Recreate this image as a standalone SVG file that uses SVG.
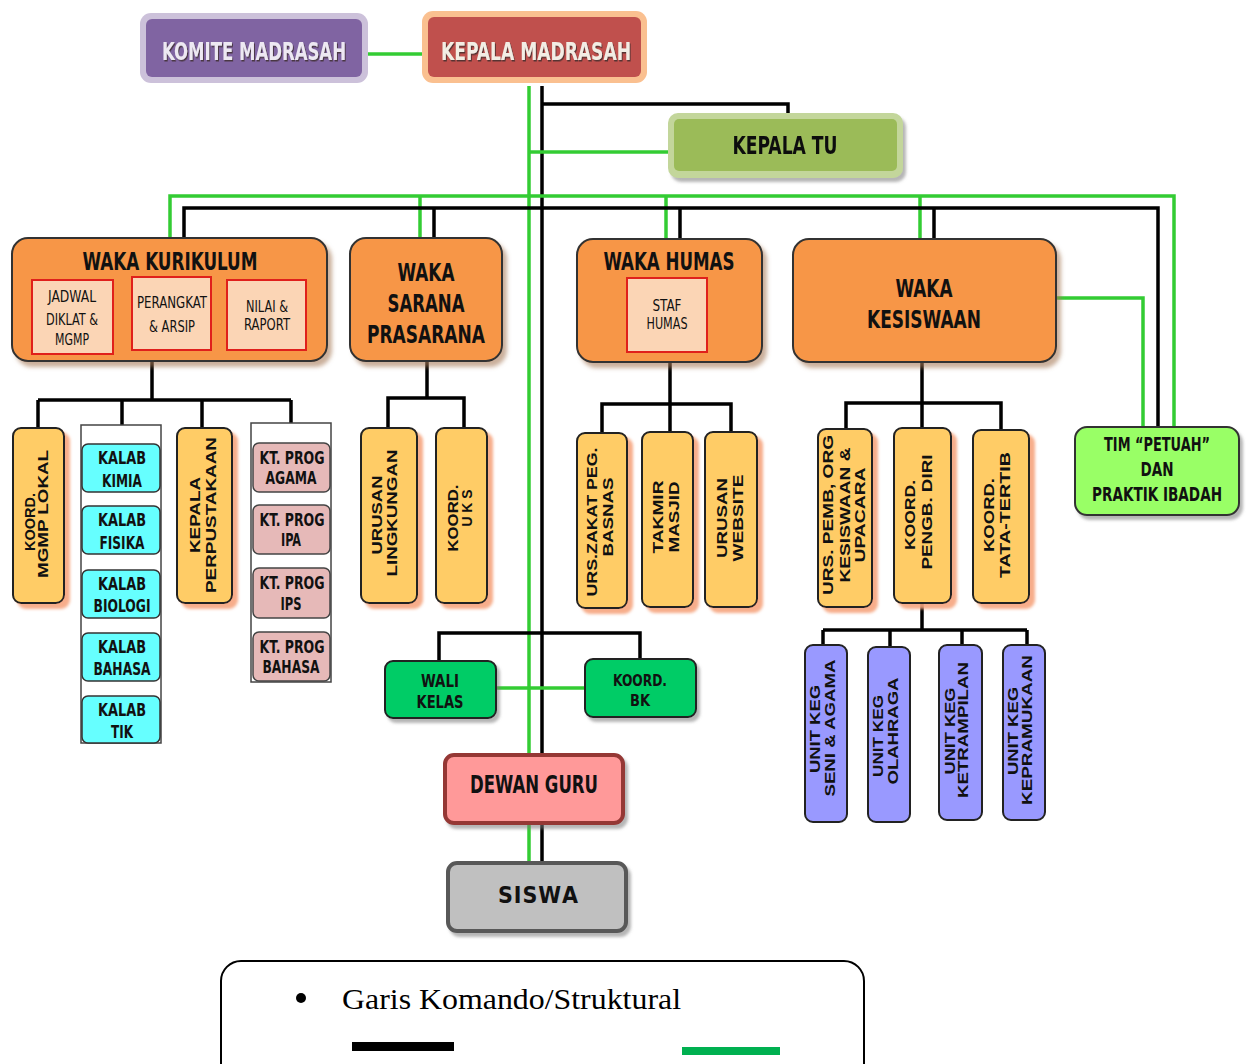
<svg xmlns="http://www.w3.org/2000/svg" width="1248" height="1064" viewBox="0 0 1248 1064">
<defs>
<filter id="sy" x="-20%" y="-20%" width="150%" height="150%"><feDropShadow dx="5" dy="5" stdDeviation="1.5" flood-color="#F6A47E" flood-opacity="0.9"/></filter>
<filter id="so" x="-20%" y="-20%" width="150%" height="150%"><feDropShadow dx="4" dy="5" stdDeviation="2" flood-color="#A77A58" flood-opacity="0.6"/></filter>
<filter id="sg" x="-20%" y="-20%" width="150%" height="150%"><feDropShadow dx="3" dy="4" stdDeviation="1.5" flood-color="#7a7a7a" flood-opacity="0.55"/></filter>
<filter id="st" x="-10%" y="-20%" width="130%" height="160%"><feDropShadow dx="1" dy="1.5" stdDeviation="0.6" flood-color="#3a2a2a" flood-opacity="0.8"/></filter>
</defs>
<style>
.nb{font-family:"Liberation Sans Narrow","Arial Narrow","DejaVu Sans Condensed","Liberation Sans",sans-serif;font-weight:bold;text-anchor:middle;fill:#111}
.nr{font-family:"Liberation Sans Narrow","Arial Narrow","DejaVu Sans Condensed","Liberation Sans",sans-serif;font-weight:normal;text-anchor:middle;fill:#111;font-size:16px}
.v{font-family:"Liberation Sans",Arial,sans-serif;font-weight:bold;font-size:14px;text-anchor:middle;fill:#111}
.waka{fill:#F79646;stroke:#333;stroke-width:2}
.sub{fill:#FBD5B5;stroke:#E0201B;stroke-width:2}
.yel{fill:#FFCC66;stroke:#222;stroke-width:2}
.cy{fill:#66FFFF;stroke:#333;stroke-width:1.5}
.pk{fill:#E6B9B8;stroke:#444;stroke-width:1.5}
.pu{fill:#9999FF;stroke:#222;stroke-width:2}
.gr{fill:#00CC66;stroke:#222;stroke-width:2}
.cont{fill:#fff;stroke:#444;stroke-width:1.5}
.k{stroke:#000;stroke-width:3.5;fill:none}
.g{stroke:#33CC33;stroke-width:3.5;fill:none}
</style>
<rect width="1248" height="1064" fill="#fff"/>

<g id="connectors">
<line class="g" x1="529" y1="86" x2="529" y2="861"/>
<line class="k" x1="542" y1="86" x2="542" y2="861"/>
<line class="g" x1="368" y1="54" x2="422" y2="54"/>
<polyline class="k" points="542,104 788,104 788,114"/>
<line class="g" x1="529" y1="152" x2="668" y2="152"/>
<polyline class="g" points="170,238 170,196 1174,196 1174,427"/>
<line class="g" x1="420" y1="196" x2="420" y2="238"/>
<line class="g" x1="666" y1="196" x2="666" y2="238"/>
<line class="g" x1="920" y1="196" x2="920" y2="238"/>
<polyline class="k" points="184,238 184,208 1158,208 1158,427"/>
<line class="k" x1="434" y1="208" x2="434" y2="238"/>
<line class="k" x1="680" y1="208" x2="680" y2="238"/>
<line class="k" x1="934" y1="208" x2="934" y2="238"/>
<polyline class="g" points="1056,298 1143,298 1143,427"/>
<line class="k" x1="152" y1="362" x2="152" y2="400"/>
<line class="k" x1="38" y1="400" x2="291" y2="400"/>
<line class="k" x1="38" y1="400" x2="38" y2="428"/>
<line class="k" x1="122" y1="400" x2="122" y2="425"/>
<line class="k" x1="202" y1="400" x2="202" y2="428"/>
<line class="k" x1="291" y1="400" x2="291" y2="423"/>
<line class="k" x1="427" y1="362" x2="427" y2="398"/>
<polyline class="k" points="388,428 388,398 464,398 464,428"/>
<line class="k" x1="670" y1="362" x2="670" y2="432"/>
<polyline class="k" points="602,433 602,404 731,404 731,432"/>
<line class="k" x1="922" y1="362" x2="922" y2="428"/>
<polyline class="k" points="846,429 846,403 1001,403 1001,430"/>
<line class="k" x1="922" y1="603" x2="922" y2="630"/>
<line class="k" x1="823" y1="630" x2="1027" y2="630"/>
<line class="k" x1="823" y1="630" x2="823" y2="645"/>
<line class="k" x1="890" y1="630" x2="890" y2="647"/>
<line class="k" x1="962" y1="630" x2="962" y2="645"/>
<line class="k" x1="1027" y1="630" x2="1027" y2="645"/>
<polyline class="k" points="439,661 439,633 640,633 640,659"/>
<line class="g" x1="496" y1="688" x2="585" y2="688"/>
</g>

<g id="komite-madrasah">
<rect x="140" y="13" width="228" height="70" rx="11" fill="#CCC1DA"/>
<rect x="146" y="19" width="216" height="58" rx="6" fill="#8064A2"/>
<text class="nb" x="254" y="60" font-size="25" textLength="184" lengthAdjust="spacingAndGlyphs" style="fill:#EDE8F2" filter="url(#st)">KOMITE MADRASAH</text>
</g>
<g id="kepala-madrasah">
<rect x="422" y="11" width="225" height="72" rx="11" fill="#FAC090"/>
<rect x="428" y="17" width="213" height="60" rx="6" fill="#C0504D"/>
<text class="nb" x="536" y="60" font-size="25" textLength="190" lengthAdjust="spacingAndGlyphs" style="fill:#F2EDE4" filter="url(#st)">KEPALA MADRASAH</text>
</g>
<g id="kepala-tu" filter="url(#sg)">
<rect x="668" y="113" width="235" height="65" rx="10" fill="#C3D69B"/>
<rect x="674" y="119" width="223" height="52" rx="5" fill="#9BBB59"/>
<text class="nb" x="785" y="154" font-size="25" textLength="105" lengthAdjust="spacingAndGlyphs">KEPALA TU</text>
</g>

<g id="waka-kurikulum">
<rect class="waka" x="12" y="238" width="315" height="123" rx="16" filter="url(#so)"/>
<text class="nb" x="170" y="270" font-size="25" textLength="175" lengthAdjust="spacingAndGlyphs">WAKA KURIKULUM</text>
<rect class="sub" x="32" y="280" width="81" height="74"/>
<text class="nr" x="72" y="302" textLength="48" lengthAdjust="spacingAndGlyphs">JADWAL</text>
<text class="nr" x="72" y="325" textLength="52" lengthAdjust="spacingAndGlyphs">DIKLAT &amp;</text>
<text class="nr" x="72" y="345" textLength="34" lengthAdjust="spacingAndGlyphs">MGMP</text>
<rect class="sub" x="132" y="277" width="79" height="73"/>
<text class="nr" x="172" y="308" textLength="70" lengthAdjust="spacingAndGlyphs">PERANGKAT</text>
<text class="nr" x="172" y="332" textLength="46" lengthAdjust="spacingAndGlyphs">&amp; ARSIP</text>
<rect class="sub" x="227" y="280" width="79" height="70"/>
<text class="nr" x="267" y="312" textLength="42" lengthAdjust="spacingAndGlyphs">NILAI &amp;</text>
<text class="nr" x="267" y="330" textLength="46" lengthAdjust="spacingAndGlyphs">RAPORT</text>
</g>
<g id="waka-sarana">
<rect class="waka" x="350" y="238" width="152" height="123" rx="16" filter="url(#so)"/>
<text class="nb" x="426" y="281" font-size="25" textLength="57" lengthAdjust="spacingAndGlyphs">WAKA</text>
<text class="nb" x="426" y="312" font-size="25" textLength="77" lengthAdjust="spacingAndGlyphs">SARANA</text>
<text class="nb" x="426" y="343" font-size="25" textLength="118" lengthAdjust="spacingAndGlyphs">PRASARANA</text>
</g>
<g id="waka-humas">
<rect class="waka" x="577" y="239" width="185" height="123" rx="16" filter="url(#so)"/>
<text class="nb" x="669" y="270" font-size="25" textLength="131" lengthAdjust="spacingAndGlyphs">WAKA HUMAS</text>
<rect class="sub" x="627" y="278" width="80" height="74"/>
<text class="nr" x="667" y="311" textLength="29" lengthAdjust="spacingAndGlyphs">STAF</text>
<text class="nr" x="667" y="329" textLength="41" lengthAdjust="spacingAndGlyphs">HUMAS</text>
</g>
<g id="waka-kesiswaan">
<rect class="waka" x="793" y="239" width="263" height="123" rx="16" filter="url(#so)"/>
<text class="nb" x="924" y="297" font-size="25" textLength="57" lengthAdjust="spacingAndGlyphs">WAKA</text>
<text class="nb" x="924" y="328" font-size="25" textLength="114" lengthAdjust="spacingAndGlyphs">KESISWAAN</text>
</g>
<g id="tim-petuah">
<rect x="1075" y="427" width="164" height="88" rx="12" fill="#99FF66" stroke="#333" stroke-width="2" filter="url(#sg)"/>
<text class="nb" x="1157" y="451" font-size="20" textLength="106" lengthAdjust="spacingAndGlyphs">TIM “PETUAH”</text>
<text class="nb" x="1157" y="476" font-size="20" textLength="33" lengthAdjust="spacingAndGlyphs">DAN</text>
<text class="nb" x="1157" y="501" font-size="20" textLength="130" lengthAdjust="spacingAndGlyphs">PRAKTIK IBADAH</text>
</g>

<g id="koord-mgmp-lokal">
<rect class="yel" x="13" y="428" width="51" height="175" rx="8" filter="url(#sy)"/>
<text class="v" transform="translate(35,522) rotate(-90)" textLength="58" lengthAdjust="spacingAndGlyphs">KOORD.</text>
<text class="v" transform="translate(48,514) rotate(-90)" textLength="128" lengthAdjust="spacingAndGlyphs">MGMP LOKAL</text>
</g>
<g id="kalab-group">
<rect class="cont" x="81" y="425" width="80" height="318"/>
<g id="kalab-kimia">
<rect class="cy" x="82" y="444" width="78" height="48" rx="6"/>
<text class="nb" x="122" y="464" font-size="17" textLength="48" lengthAdjust="spacingAndGlyphs">KALAB</text>
<text class="nb" x="122" y="487" font-size="17" textLength="40" lengthAdjust="spacingAndGlyphs">KIMIA</text>
</g>
<g id="kalab-fisika">
<rect class="cy" x="82" y="506" width="78" height="48" rx="6"/>
<text class="nb" x="122" y="526" font-size="17" textLength="48" lengthAdjust="spacingAndGlyphs">KALAB</text>
<text class="nb" x="122" y="549" font-size="17" textLength="45" lengthAdjust="spacingAndGlyphs">FISIKA</text>
</g>
<g id="kalab-biologi">
<rect class="cy" x="82" y="570" width="78" height="48" rx="6"/>
<text class="nb" x="122" y="590" font-size="17" textLength="48" lengthAdjust="spacingAndGlyphs">KALAB</text>
<text class="nb" x="122" y="612" font-size="17" textLength="57" lengthAdjust="spacingAndGlyphs">BIOLOGI</text>
</g>
<g id="kalab-bahasa">
<rect class="cy" x="82" y="633" width="78" height="48" rx="6"/>
<text class="nb" x="122" y="653" font-size="17" textLength="48" lengthAdjust="spacingAndGlyphs">KALAB</text>
<text class="nb" x="122" y="675" font-size="17" textLength="57" lengthAdjust="spacingAndGlyphs">BAHASA</text>
</g>
<g id="kalab-tik">
<rect class="cy" x="82" y="696" width="78" height="47" rx="6"/>
<text class="nb" x="122" y="716" font-size="17" textLength="48" lengthAdjust="spacingAndGlyphs">KALAB</text>
<text class="nb" x="122" y="738" font-size="17" textLength="22" lengthAdjust="spacingAndGlyphs">TIK</text>
</g>
</g>
<g id="kepala-perpustakaan">
<rect class="yel" x="177" y="428" width="55" height="175" rx="8" filter="url(#sy)"/>
<text class="v" transform="translate(200,515) rotate(-90)" textLength="76" lengthAdjust="spacingAndGlyphs">KEPALA</text>
<text class="v" transform="translate(216,515) rotate(-90)" textLength="156" lengthAdjust="spacingAndGlyphs">PERPUSTAKAAN</text>
</g>
<g id="ktprog-group">
<rect class="cont" x="251" y="423" width="80" height="259"/>
<g id="ktprog-agama">
<rect class="pk" x="253" y="443" width="77" height="49" rx="6"/>
<text class="nb" x="292" y="464" font-size="17" textLength="65" lengthAdjust="spacingAndGlyphs">KT. PROG</text>
<text class="nb" x="291" y="484" font-size="17" textLength="51" lengthAdjust="spacingAndGlyphs">AGAMA</text>
</g>
<g id="ktprog-ipa">
<rect class="pk" x="253" y="505" width="77" height="49" rx="6"/>
<text class="nb" x="292" y="526" font-size="17" textLength="65" lengthAdjust="spacingAndGlyphs">KT. PROG</text>
<text class="nb" x="291" y="546" font-size="17" textLength="20" lengthAdjust="spacingAndGlyphs">IPA</text>
</g>
<g id="ktprog-ips">
<rect class="pk" x="253" y="568" width="77" height="50" rx="6"/>
<text class="nb" x="292" y="589" font-size="17" textLength="65" lengthAdjust="spacingAndGlyphs">KT. PROG</text>
<text class="nb" x="291" y="610" font-size="17" textLength="21" lengthAdjust="spacingAndGlyphs">IPS</text>
</g>
<g id="ktprog-bahasa">
<rect class="pk" x="253" y="632" width="77" height="49" rx="6"/>
<text class="nb" x="292" y="653" font-size="17" textLength="65" lengthAdjust="spacingAndGlyphs">KT. PROG</text>
<text class="nb" x="291" y="673" font-size="17" textLength="57" lengthAdjust="spacingAndGlyphs">BAHASA</text>
</g>
</g>

<g id="urusan-lingkungan">
<rect class="yel" x="361" y="428" width="56" height="175" rx="8" filter="url(#sy)"/>
<text class="v" transform="translate(382,515) rotate(-90)" textLength="79" lengthAdjust="spacingAndGlyphs">URUSAN</text>
<text class="v" transform="translate(397,513) rotate(-90)" textLength="127" lengthAdjust="spacingAndGlyphs">LINGKUNGAN</text>
</g>
<g id="koord-uks">
<rect class="yel" x="436" y="428" width="51" height="175" rx="8" filter="url(#sy)"/>
<text class="v" transform="translate(458,518) rotate(-90)" textLength="67" lengthAdjust="spacingAndGlyphs">KOORD.</text>
<text class="v" transform="translate(472,508) rotate(-90)" textLength="37" lengthAdjust="spacingAndGlyphs">U K S</text>
</g>

<g id="urs-zakat">
<rect class="yel" x="577" y="433" width="50" height="175" rx="8" filter="url(#sy)"/>
<text class="v" transform="translate(597,522) rotate(-90)" textLength="149" lengthAdjust="spacingAndGlyphs">URS.ZAKAT PEG.</text>
<text class="v" transform="translate(613,517) rotate(-90)" textLength="79" lengthAdjust="spacingAndGlyphs">BASNAS</text>
</g>
<g id="takmir-masjid">
<rect class="yel" x="642" y="432" width="51" height="175" rx="8" filter="url(#sy)"/>
<text class="v" transform="translate(663,517) rotate(-90)" textLength="73" lengthAdjust="spacingAndGlyphs">TAKMIR</text>
<text class="v" transform="translate(679,517) rotate(-90)" textLength="71" lengthAdjust="spacingAndGlyphs">MASJID</text>
</g>
<g id="urusan-website">
<rect class="yel" x="705" y="432" width="52" height="175" rx="8" filter="url(#sy)"/>
<text class="v" transform="translate(727,518) rotate(-90)" textLength="80" lengthAdjust="spacingAndGlyphs">URUSAN</text>
<text class="v" transform="translate(743,518) rotate(-90)" textLength="87" lengthAdjust="spacingAndGlyphs">WEBSITE</text>
</g>

<g id="urs-pembinaan">
<rect class="yel" x="818" y="429" width="54" height="178" rx="8" filter="url(#sy)"/>
<text class="v" transform="translate(833,515) rotate(-90)" textLength="160" lengthAdjust="spacingAndGlyphs">URS. PEMB, ORG</text>
<text class="v" transform="translate(850,515) rotate(-90)" textLength="135" lengthAdjust="spacingAndGlyphs">KESISWAAN &amp;</text>
<text class="v" transform="translate(865,515) rotate(-90)" textLength="95" lengthAdjust="spacingAndGlyphs">UPACARA</text>
</g>
<g id="koord-pengb-diri">
<rect class="yel" x="894" y="428" width="57" height="175" rx="8" filter="url(#sy)"/>
<text class="v" transform="translate(915,515) rotate(-90)" textLength="70" lengthAdjust="spacingAndGlyphs">KOORD.</text>
<text class="v" transform="translate(932,512) rotate(-90)" textLength="115" lengthAdjust="spacingAndGlyphs">PENGB. DIRI</text>
</g>
<g id="koord-tata-tertib">
<rect class="yel" x="973" y="430" width="56" height="173" rx="8" filter="url(#sy)"/>
<text class="v" transform="translate(994,515) rotate(-90)" textLength="74" lengthAdjust="spacingAndGlyphs">KOORD.</text>
<text class="v" transform="translate(1010,515) rotate(-90)" textLength="126" lengthAdjust="spacingAndGlyphs">TATA-TERTIB</text>
</g>

<g id="unit-seni-agama">
<rect class="pu" x="805" y="645" width="42" height="177" rx="8"/>
<text class="v" transform="translate(820,729) rotate(-90)" textLength="88" lengthAdjust="spacingAndGlyphs">UNIT KEG</text>
<text class="v" transform="translate(835,728) rotate(-90)" textLength="137" lengthAdjust="spacingAndGlyphs">SENI &amp; AGAMA</text>
</g>
<g id="unit-olahraga">
<rect class="pu" x="868" y="647" width="42" height="175" rx="8"/>
<text class="v" transform="translate(883,736) rotate(-90)" textLength="82" lengthAdjust="spacingAndGlyphs">UNIT KEG</text>
<text class="v" transform="translate(898,731) rotate(-90)" textLength="107" lengthAdjust="spacingAndGlyphs">OLAHRAGA</text>
</g>
<g id="unit-ketrampilan">
<rect class="pu" x="939" y="645" width="43" height="175" rx="8"/>
<text class="v" transform="translate(955,731) rotate(-90)" textLength="87" lengthAdjust="spacingAndGlyphs">UNIT KEG</text>
<text class="v" transform="translate(968,730) rotate(-90)" textLength="136" lengthAdjust="spacingAndGlyphs">KETRAMPILAN</text>
</g>
<g id="unit-kepramukaan">
<rect class="pu" x="1003" y="645" width="42" height="175" rx="8"/>
<text class="v" transform="translate(1018,731) rotate(-90)" textLength="88" lengthAdjust="spacingAndGlyphs">UNIT KEG</text>
<text class="v" transform="translate(1032,730) rotate(-90)" textLength="150" lengthAdjust="spacingAndGlyphs">KEPRAMUKAAN</text>
</g>

<g id="wali-kelas">
<rect class="gr" x="385" y="661" width="111" height="57" rx="8" filter="url(#sg)"/>
<text class="nb" x="440" y="687" font-size="17" textLength="38" lengthAdjust="spacingAndGlyphs">WALI</text>
<text class="nb" x="440" y="708" font-size="17" textLength="47" lengthAdjust="spacingAndGlyphs">KELAS</text>
</g>
<g id="koord-bk">
<rect class="gr" x="585" y="659" width="111" height="58" rx="8" filter="url(#sg)"/>
<text class="nb" x="640" y="686" font-size="16" textLength="54" lengthAdjust="spacingAndGlyphs">KOORD.</text>
<text class="nb" x="640" y="706" font-size="16" textLength="20" lengthAdjust="spacingAndGlyphs">BK</text>
</g>
<g id="dewan-guru">
<rect x="445" y="755" width="178" height="68" rx="9" fill="#FF9999" stroke="#953735" stroke-width="4" filter="url(#sg)"/>
<text class="nb" x="534" y="793" font-size="25" textLength="128" lengthAdjust="spacingAndGlyphs">DEWAN GURU</text>
</g>
<g id="siswa">
<rect x="448" y="863" width="178" height="68" rx="9" fill="#C0C0C0" stroke="#595959" stroke-width="4" filter="url(#sg)"/>
<text class="nb" x="538" y="903" font-size="23" textLength="80" lengthAdjust="spacing">S I S W A</text>
</g>

<g id="legend">
<rect x="221" y="961" width="643" height="140" rx="20" fill="#fff" stroke="#000" stroke-width="2"/>
<circle cx="301" cy="998" r="5" fill="#000"/>
<text x="342" y="1009" font-family="'Liberation Serif','Times New Roman',serif" font-size="30" fill="#000" textLength="339" lengthAdjust="spacingAndGlyphs">Garis Komando/Struktural</text>
<rect x="352" y="1042" width="102" height="9" fill="#000"/>
<rect x="682" y="1047" width="98" height="8" fill="#00B050"/>
</g>
</svg>
